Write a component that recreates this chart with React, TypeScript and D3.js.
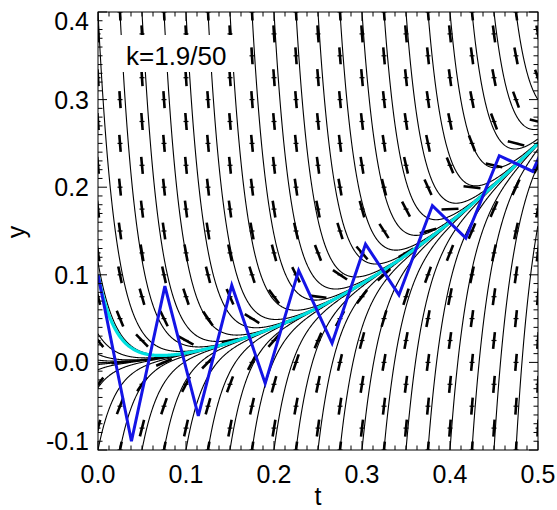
import React from 'react'
import * as d3 from 'd3'

// stiffness of y' = -K (y - t^2) + 2t
const K = 50
const labelText = 'k=1.9/50'

// direction field grid (staggered rows)
const fieldT = [0, 0.025, 0.05, 0.075, 0.1, 0.125, 0.15, 0.175, 0.2, 0.225, 0.25, 0.275, 0.3, 0.325, 0.35, 0.375, 0.4, 0.425, 0.45, 0.475, 0.5]
const fieldYEven = [-0.075, -0.025, 0.025, 0.075, 0.125, 0.175, 0.225, 0.275, 0.325, 0.375]
const fieldYOdd = [-0.1, -0.05, 0, 0.05, 0.1, 0.15, 0.2, 0.25, 0.3, 0.35, 0.4]

// solution curves: where they enter through the top (y=0.4) and bottom (y=-0.1) edges
const topEntryT = [-0.1, -0.075, -0.05, -0.025, 0, 0.025, 0.05, 0.075, 0.1, 0.125, 0.15, 0.175, 0.2, 0.225, 0.25, 0.275, 0.3, 0.325, 0.35, 0.375, 0.4, 0.425, 0.45, 0.475]
const bottomEntryT = [-0.1, -0.075, -0.05, -0.025, 0, 0.025, 0.05, 0.075, 0.1, 0.125, 0.15, 0.175, 0.2, 0.225, 0.25, 0.275, 0.3, 0.325, 0.35, 0.375, 0.4, 0.425, 0.45, 0.475]
const exactY0 = 0.1

// explicit Euler steps, h = 1.9/50
const eulerT = [0, 0.038, 0.076, 0.114, 0.152, 0.19, 0.228, 0.266, 0.304, 0.342, 0.38, 0.418, 0.456, 0.494, 0.532]
const eulerY = [0.1, -0.09, 0.087, -0.061, 0.088, -0.024, 0.105, 0.022, 0.135, 0.077, 0.179, 0.142, 0.236, 0.218, 0.305]

const xTicks = [0, 0.1, 0.2, 0.3, 0.4, 0.5]
const yTicks = [-0.1, 0, 0.1, 0.2, 0.3, 0.4]
const tickLabel = (v: number) => (v < 0 ? '-' : '') + Math.abs(v).toFixed(1)

const W = 557
const H = 510
const L = 98, R = 538, T = 12, B = 450
const FONT = 'Liberation Sans, Arial, Helvetica, sans-serif'

export default function App() {
  const x = d3.scaleLinear().domain([0, 0.5]).range([L, R])
  const y = d3.scaleLinear().domain([-0.1, 0.4]).range([B, T])
  const line = d3.line<[number, number]>().x(d => x(d[0])).y(d => y(d[1]))

  const slope = (t: number, v: number) => -K * (v - t * t) + 2 * t
  const curve = (t0: number, y0: number) => {
    const pts: [number, number][] = []
    const c = (y0 - t0 * t0)
    const start = Math.max(0, t0)
    for (let t = start; t <= 0.5 + 1e-9; t += 0.0004) {
      pts.push([t, t * t + c * Math.exp(-K * (t - t0))])
    }
    return line(pts) || ''
  }

  const curves: string[] = []
  topEntryT.forEach(t0 => curves.push(curve(t0, 0.4)))
  bottomEntryT.forEach(t0 => curves.push(curve(t0, -0.1)))

  const dashes: { cx: number; cy: number; dx: number; dy: number }[] = []
  fieldT.forEach((t, i) => {
    const rows = i % 2 === 0 ? fieldYEven : fieldYOdd
    rows.forEach(v => {
      const s = slope(t, v)
      const px = x(0.01) - x(0)
      const py = y(s * 0.01) - y(0)
      const n = Math.hypot(px, py)
      dashes.push({ cx: x(t), cy: y(v), dx: (px / n) * 8.5, dy: (py / n) * 8.5 })
    })
  })

  const xMinor = d3.range(0, 41).map(i => i * 0.0125)
  const yMinor = d3.range(0, 51).map(i => -0.1 + i * 0.01)

  const euler = line(eulerT.map((t, i) => [t, eulerY[i]] as [number, number])) || ''

  // the end labels are pulled inside so they stay on the page
  const yLabelBase = (v: number) => {
    if (v >= 0.4 - 1e-9) return y(v) + 18
    if (v <= -0.1 + 1e-9) return y(v)
    return y(v) + 9
  }

  return (
    <svg width={W} height={H} style={{ position: 'absolute', left: 0, top: 0, background: '#fff' }}>
      <defs>
        <clipPath id="plot">
          <rect x={L} y={T} width={R - L} height={B - T} />
        </clipPath>
      </defs>
      <g clipPath="url(#plot)">
        {curves.map((d, i) => (
          <path key={i} d={d} fill="none" stroke="#000" strokeWidth={1.1} />
        ))}
        {dashes.map((d, i) => (
          <g key={i}>
            <line x1={d.cx - d.dx} y1={d.cy - d.dy} x2={d.cx + d.dx} y2={d.cy + d.dy} stroke="#000" strokeWidth={2.6} />
            <line x1={d.cx - 2.5} y1={d.cy} x2={d.cx + 2.5} y2={d.cy} stroke="#000" strokeWidth={1.2} />
          </g>
        ))}
        <path d={curve(0, exactY0)} fill="none" stroke="#00e0e0" strokeWidth={3.2} />
        <path d={euler} fill="none" stroke="#1414e6" strokeWidth={3} strokeLinejoin="miter" />
      </g>

      {/* label box */}
      <rect x={117} y={35} width={119} height={37} fill="#fff" />
      <text x={126} y={65} fontFamily={FONT} fontSize={26} fill="#000">{labelText}</text>

      {/* frame and ticks */}
      <rect x={L} y={T} width={R - L} height={B - T} fill="none" stroke="#000" strokeWidth={1} />
      {xMinor.map((t, i) => {
        const major = i % 8 === 0
        const len = major ? 9 : 4.5
        return (
          <g key={'xt' + i} stroke="#000" strokeWidth={1}>
            <line x1={x(t)} x2={x(t)} y1={B} y2={B - len} />
            <line x1={x(t)} x2={x(t)} y1={T} y2={T + len} />
          </g>
        )
      })}
      {yMinor.map((v, i) => {
        const major = i % 10 === 0
        const len = major ? 9 : 4.5
        return (
          <g key={'yt' + i} stroke="#000" strokeWidth={1}>
            <line x1={L} x2={L + len} y1={y(v)} y2={y(v)} />
            <line x1={R} x2={R - len} y1={y(v)} y2={y(v)} />
          </g>
        )
      })}
      {xTicks.map(t => (
        <text key={'xl' + t} x={x(t)} y={483} textAnchor="middle" fontFamily={FONT} fontSize={25} fill="#000">
          {tickLabel(t)}
        </text>
      ))}
      {yTicks.map(v => (
        <text key={'yl' + v} x={89} y={yLabelBase(v)} textAnchor="end" fontFamily={FONT} fontSize={25} fill="#000">
          {tickLabel(v)}
        </text>
      ))}
      <text x={318} y={505} textAnchor="middle" fontFamily={FONT} fontSize={25} fill="#000">t</text>
      <text transform={`translate(25,232) rotate(-90)`} textAnchor="middle" fontFamily={FONT} fontSize={25} fill="#000">y</text>
    </svg>
  )
}
